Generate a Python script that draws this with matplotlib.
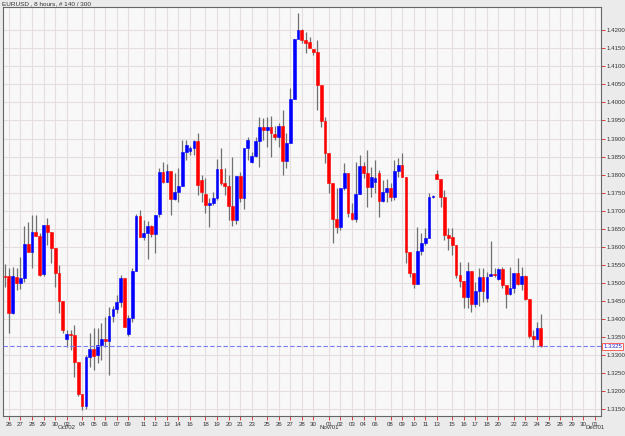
import numpy as np
import matplotlib
matplotlib.use('Agg')
import matplotlib.pyplot as plt

plt.rcParams['font.family'] = ['Liberation Sans', 'DejaVu Sans']

# EURUSD, 8-часовые свечи (140 шт.)
opens = [
    1.3519, 1.3519, 1.3417, 1.3517, 1.3500, 1.3514, 1.3608, 1.3586, 1.3641, 1.3630,
    1.3525, 1.3660, 1.3641, 1.3597, 1.3528, 1.3450, 1.3345, 1.3359, 1.3356, 1.3281,
    1.3193, 1.3160, 1.3295, 1.3317, 1.3301, 1.3328, 1.3345, 1.3340, 1.3409, 1.3428,
    1.3447, 1.3514, 1.3359, 1.3403, 1.3533, 1.3685, 1.3627, 1.3638, 1.3658, 1.3636,
    1.3691, 1.3807, 1.3779, 1.3810, 1.3732, 1.3752, 1.3768, 1.3862, 1.3865, 1.3874,
    1.3893, 1.3785, 1.3746, 1.3716, 1.3721, 1.3735, 1.3815, 1.3777, 1.3768, 1.3713,
    1.3674, 1.3796, 1.3735, 1.3874, 1.3835, 1.3851, 1.3893, 1.3932, 1.3923, 1.3932,
    1.3912, 1.3904, 1.3934, 1.3838, 1.3887, 1.4009, 1.4175, 1.4200, 1.4172, 1.4167,
    1.4147, 1.4139, 1.4048, 1.3948, 1.3860, 1.3777, 1.3677, 1.3655, 1.3763, 1.3804,
    1.3694, 1.3677, 1.3746, 1.3824, 1.3804, 1.3766, 1.3779, 1.3804, 1.3727, 1.3752,
    1.3763, 1.3738, 1.3810, 1.3826, 1.3793, 1.3586, 1.3528, 1.3497, 1.3588, 1.3611,
    1.3624, 1.3738, 1.3802, 1.3788, 1.3738, 1.3633, 1.3627, 1.3605, 1.3522, 1.3505,
    1.3461, 1.3533, 1.3442, 1.3478, 1.3517, 1.3459, 1.3519, 1.3525, 1.3511, 1.3539,
    1.3494, 1.3470, 1.3486, 1.3528, 1.3497, 1.3519, 1.3456, 1.3353, 1.3345, 1.3375,
]
highs = [
    1.3553, 1.3541, 1.3544, 1.3541, 1.3572, 1.3658, 1.3669, 1.3688, 1.3688, 1.3638,
    1.3660, 1.3680, 1.3641, 1.3597, 1.3550, 1.3450, 1.3370, 1.3370, 1.3384, 1.3281,
    1.3193, 1.3301, 1.3362, 1.3375, 1.3375, 1.3389, 1.3406, 1.3434, 1.3436, 1.3467,
    1.3522, 1.3514, 1.3412, 1.3541, 1.3691, 1.3702, 1.3674, 1.3672, 1.3660, 1.3688,
    1.3818, 1.3835, 1.3829, 1.3810, 1.3804, 1.3818, 1.3896, 1.3896, 1.3879, 1.3896,
    1.3915, 1.3799, 1.3790, 1.3735, 1.3752, 1.3843, 1.3874, 1.3818, 1.3799, 1.3849,
    1.3796, 1.3807, 1.3874, 1.3904, 1.3862, 1.3904, 1.3959, 1.3957, 1.3959, 1.3962,
    1.3934, 1.3943, 1.3979, 1.3915, 1.4040, 1.4175, 1.4247, 1.4203, 1.4194, 1.4181,
    1.4147, 1.4172, 1.4048, 1.3959, 1.3860, 1.3777, 1.3763, 1.3763, 1.3832, 1.3804,
    1.3721, 1.3835, 1.3854, 1.3835, 1.3868, 1.3821, 1.3840, 1.3813, 1.3785, 1.3788,
    1.3777, 1.3840, 1.3846, 1.3860, 1.3793, 1.3586, 1.3528, 1.3655, 1.3638, 1.3652,
    1.3749, 1.3743, 1.3813, 1.3788, 1.3757, 1.3652, 1.3652, 1.3605, 1.3558, 1.3505,
    1.3558, 1.3533, 1.3503, 1.3541, 1.3541, 1.3530, 1.3616, 1.3541, 1.3541, 1.3544,
    1.3494, 1.3544, 1.3528, 1.3569, 1.3544, 1.3522, 1.3456, 1.3370, 1.3392, 1.3414,
]
lows = [
    1.3489, 1.3362, 1.3414, 1.3481, 1.3483, 1.3503, 1.3586, 1.3541, 1.3630, 1.3519,
    1.3519, 1.3605, 1.3555, 1.3489, 1.3417, 1.3362, 1.3323, 1.3315, 1.3240, 1.3187,
    1.3149, 1.3151, 1.3268, 1.3259, 1.3279, 1.3287, 1.3323, 1.3245, 1.3392, 1.3417,
    1.3434, 1.3378, 1.3353, 1.3392, 1.3533, 1.3627, 1.3619, 1.3566, 1.3627, 1.3583,
    1.3683, 1.3777, 1.3779, 1.3688, 1.3730, 1.3724, 1.3768, 1.3840, 1.3854, 1.3854,
    1.3743, 1.3724, 1.3694, 1.3655, 1.3716, 1.3730, 1.3771, 1.3743, 1.3674, 1.3658,
    1.3663, 1.3724, 1.3705, 1.3840, 1.3832, 1.3849, 1.3821, 1.3896, 1.3876, 1.3849,
    1.3896, 1.3876, 1.3799, 1.3818, 1.3887, 1.4009, 1.4175, 1.4164, 1.4136, 1.4150,
    1.4131, 1.3979, 1.3932, 1.3832, 1.3749, 1.3611, 1.3638, 1.3647, 1.3757, 1.3683,
    1.3674, 1.3669, 1.3746, 1.3790, 1.3710, 1.3738, 1.3749, 1.3683, 1.3724, 1.3724,
    1.3727, 1.3730, 1.3793, 1.3793, 1.3555, 1.3517, 1.3486, 1.3497, 1.3577, 1.3605,
    1.3624, 1.3735, 1.3788, 1.3710, 1.3619, 1.3591, 1.3577, 1.3514, 1.3489, 1.3431,
    1.3431, 1.3420, 1.3434, 1.3436, 1.3447, 1.3447, 1.3519, 1.3517, 1.3508, 1.3486,
    1.3431, 1.3467, 1.3472, 1.3494, 1.3481, 1.3453, 1.3348, 1.3323, 1.3342, 1.3323,
]
closes = [
    1.3517, 1.3417, 1.3519, 1.3500, 1.3514, 1.3608, 1.3586, 1.3641, 1.3630, 1.3522,
    1.3660, 1.3641, 1.3597, 1.3528, 1.3450, 1.3370, 1.3359, 1.3356, 1.3281, 1.3193,
    1.3160, 1.3295, 1.3317, 1.3298, 1.3328, 1.3345, 1.3340, 1.3409, 1.3428, 1.3447,
    1.3514, 1.3378, 1.3403, 1.3533, 1.3685, 1.3627, 1.3638, 1.3658, 1.3636, 1.3688,
    1.3807, 1.3779, 1.3810, 1.3732, 1.3752, 1.3768, 1.3862, 1.3882, 1.3874, 1.3893,
    1.3771, 1.3752, 1.3716, 1.3721, 1.3735, 1.3815, 1.3777, 1.3768, 1.3713, 1.3674,
    1.3796, 1.3735, 1.3874, 1.3896, 1.3851, 1.3893, 1.3932, 1.3923, 1.3932, 1.3915,
    1.3904, 1.3934, 1.3838, 1.3887, 1.4009, 1.4175, 1.4200, 1.4172, 1.4164, 1.4150,
    1.4139, 1.4048, 1.3948, 1.3860, 1.3777, 1.3677, 1.3655, 1.3763, 1.3804, 1.3694,
    1.3677, 1.3746, 1.3824, 1.3804, 1.3766, 1.3793, 1.3790, 1.3727, 1.3752, 1.3763,
    1.3738, 1.3810, 1.3826, 1.3793, 1.3586, 1.3528, 1.3497, 1.3588, 1.3611, 1.3624,
    1.3738, 1.3741, 1.3788, 1.3738, 1.3633, 1.3624, 1.3605, 1.3522, 1.3505, 1.3461,
    1.3533, 1.3442, 1.3478, 1.3517, 1.3478, 1.3517, 1.3525, 1.3522, 1.3539, 1.3494,
    1.3470, 1.3486, 1.3528, 1.3497, 1.3519, 1.3456, 1.3353, 1.3345, 1.3375, 1.3325,
]

# подписи дат под осью и номер свечи, на которой начинается день
day_labels = ['26', '27', '28', '29', '30', '02', '04', '05', '06', '07', '09',
              '11', '12', '13', '14', '16', '18', '19', '20', '21', '23',
              '25', '26', '27', '28', '30', '01', '02', '03', '04', '06',
              '08', '09', '10', '11', '13', '15', '16', '17', '18', '20',
              '22', '23', '24', '25', '28', '29', '30', '01']
day_pos = [1, 4, 7, 10, 13, 16, 20, 23, 26, 29, 32,
           36, 39, 42, 45, 48, 52, 55, 58, 61, 64,
           68, 71, 74, 77, 80, 84, 87, 90, 93, 96,
           100, 103, 106, 109, 112, 116, 119, 122, 125, 128,
           132, 135, 138, 141, 144, 147, 150, 153]
month_labels = ['Oct/02', 'Nov/01', 'Dec/01']
month_pos = [16, 84, 153]

price_ticks = np.round(np.arange(1.3150, 1.42001, 0.005), 4)
last_price = closes[-1]

o = np.array(opens)
h = np.array(highs)
l = np.array(lows)
c = np.array(closes)
x = np.arange(len(o))
up = c >= o
col = np.where(up, '#0000ff', '#ff0000')

fig = plt.figure(figsize=(6.25, 4.36), dpi=100, facecolor='#ebebeb')
ax = fig.add_axes([3 / 625, 1 - 416 / 436, 598 / 625, 409 / 436])
ax.set_facecolor('#f8f8f8')

# сетка
for p in price_ticks:
    ax.axhline(p, color='#e6dede', lw=0.8, zorder=0)
for xp in day_pos:
    ax.axvline(xp, color='#e6dede', lw=0.8, zorder=0)

# свечи: тени и тела
ax.vlines(x, l, h, color='#707070', lw=0.9, zorder=2)
ax.bar(x, np.abs(c - o), bottom=np.minimum(o, c), width=0.72,
       color=col, edgecolor=col, linewidth=0.4, zorder=3)

# текущая цена
ax.axhline(last_price, color='#7a7aff', lw=0.8, ls=(0, (4, 2)), zorder=4)

ax.set_xlim(-0.52, 154.6)
ax.set_ylim(1.3132, 1.4264)

ax.yaxis.tick_right()
ax.set_yticks(price_ticks)
ax.set_yticklabels(['%.4f' % p for p in price_ticks])
ax.set_xticks(day_pos)
ax.set_xticklabels(day_labels)
ax.tick_params(axis='both', labelsize=4.4, colors='#cc2222', labelcolor='#333333',
               length=3, width=0.6, pad=1)

for s in ax.spines.values():
    s.set_color('#666666')
    s.set_linewidth(0.8)

for lab, xp in zip(month_labels, month_pos):
    ax.text(xp, -0.029, lab, transform=ax.get_xaxis_transform(),
            ha='center', va='center', fontsize=4.4, color='#333333')

ax.text(1.004, last_price, '%.4f' % last_price, transform=ax.get_yaxis_transform(),
        ha='left', va='center', fontsize=4.4, color='#2222cc',
        bbox=dict(boxstyle='square,pad=0.15', fc='white', ec='#ff4444', lw=0.6))

fig.text(2 / 625, 1 - 4 / 436, 'EURUSD , 8 hours, # 140 / 300', ha='left', va='center',
         fontsize=4.6, color='#333333')

plt.savefig('out.png', dpi=100, facecolor=fig.get_facecolor())
